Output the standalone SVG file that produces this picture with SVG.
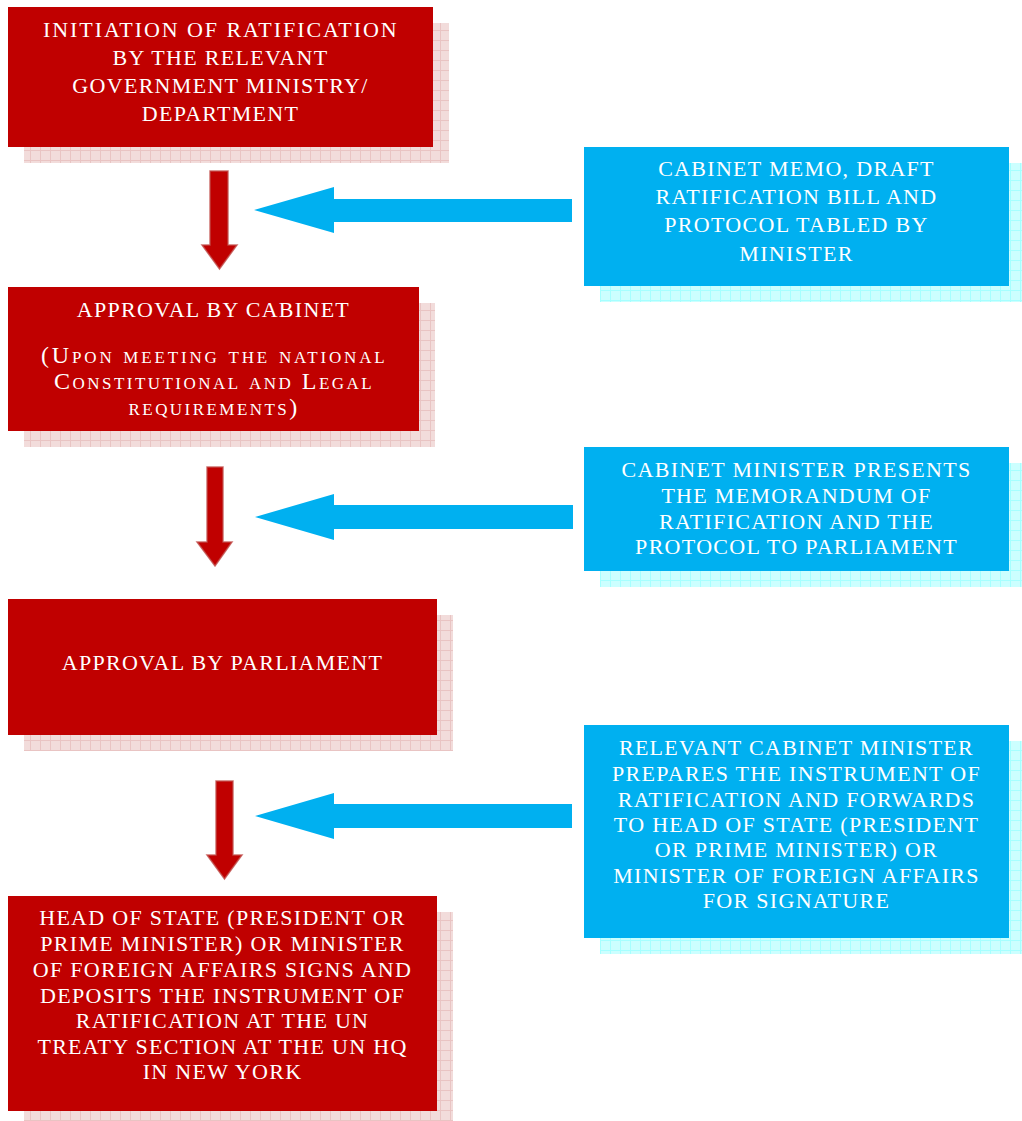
<svg xmlns="http://www.w3.org/2000/svg" width="1022" height="1121" viewBox="0 0 1022 1121">
<defs>
<pattern id="gridRed" width="10" height="10" patternUnits="userSpaceOnUse">
<rect width="10" height="10" fill="#F2DCDB"/>
<path d="M0 0.5H10M0.5 0V10" stroke="#E9C4C3" stroke-width="1"/>
</pattern>
<pattern id="gridBlue" width="10" height="10" patternUnits="userSpaceOnUse">
<rect width="10" height="10" fill="#CCFFFF"/>
<path d="M0 0.5H10M0.5 0V10" stroke="#A6FFFF" stroke-width="1"/>
</pattern>
<style>
.red{fill:#C00000}
.blue{fill:#00B0F0}
.shr{fill:url(#gridRed)}
.shb{fill:url(#gridBlue)}
.t{font-family:"Liberation Serif","Times New Roman",serif;font-size:22px;fill:#FFFFFF;text-anchor:middle;letter-spacing:1.3px}
.sc{font-variant:small-caps;font-size:24px}
.ra{fill:#C00000;stroke:#C0504D;stroke-width:1.5;stroke-opacity:0.8}
.ba{fill:#00B0F0}
</style>
</defs>

<g id="node-initiation">
<rect class="shr" x="24" y="23" width="425" height="140"/>
<rect class="red" x="8" y="7" width="425" height="140"/>
<text class="t" x="220.5" y="37" textLength="355" lengthAdjust="spacing">INITIATION OF RATIFICATION</text>
<text class="t" x="220.5" y="64.5">BY THE RELEVANT</text>
<text class="t" x="220.5" y="92.5">GOVERNMENT MINISTRY/</text>
<text class="t" x="220.5" y="120.5">DEPARTMENT</text>
</g>

<g id="node-cabinet">
<rect class="shr" x="24" y="303" width="411" height="144"/>
<rect class="red" x="8" y="287" width="411" height="144"/>
<text class="t" x="213.5" y="317">APPROVAL BY CABINET</text>
<text class="t sc" x="213.5" y="363" textLength="345" lengthAdjust="spacing">(Upon meeting the national</text>
<text class="t sc" x="213.5" y="389" textLength="319" lengthAdjust="spacing">Constitutional and Legal</text>
<text class="t sc" x="213.5" y="415" textLength="170" lengthAdjust="spacing">requirements)</text>
</g>

<g id="node-parliament">
<rect class="shr" x="24" y="615" width="429" height="136"/>
<rect class="red" x="8" y="599" width="429" height="136"/>
<text class="t" x="222.5" y="670">APPROVAL BY PARLIAMENT</text>
</g>

<g id="node-head-of-state">
<rect class="shr" x="24" y="912" width="429" height="209"/>
<rect class="red" x="8" y="896" width="429" height="215"/>
<text class="t" x="222.5" y="925">HEAD OF STATE (PRESIDENT OR</text>
<text class="t" x="222.5" y="951">PRIME MINISTER) OR MINISTER</text>
<text class="t" x="222.5" y="977">OF FOREIGN AFFAIRS SIGNS AND</text>
<text class="t" x="222.5" y="1003">DEPOSITS THE INSTRUMENT OF</text>
<text class="t" x="222.5" y="1028">RATIFICATION AT THE UN</text>
<text class="t" x="222.5" y="1054">TREATY SECTION AT THE UN HQ</text>
<text class="t" x="222.5" y="1079">IN NEW YORK</text>
</g>

<g id="node-cabinet-memo">
<rect class="shb" x="600" y="163" width="425" height="139"/>
<rect class="blue" x="584" y="147" width="425" height="139"/>
<text class="t" x="796.5" y="176">CABINET MEMO, DRAFT</text>
<text class="t" x="796.5" y="204">RATIFICATION BILL AND</text>
<text class="t" x="796.5" y="232">PROTOCOL TABLED BY</text>
<text class="t" x="796.5" y="261">MINISTER</text>
</g>

<g id="node-minister-presents">
<rect class="shb" x="600" y="463" width="425" height="124"/>
<rect class="blue" x="584" y="447" width="425" height="124"/>
<text class="t" x="796.5" y="477">CABINET MINISTER PRESENTS</text>
<text class="t" x="796.5" y="503">THE MEMORANDUM OF</text>
<text class="t" x="796.5" y="529">RATIFICATION AND THE</text>
<text class="t" x="796.5" y="554">PROTOCOL TO PARLIAMENT</text>
</g>

<g id="node-instrument">
<rect class="shb" x="600" y="741" width="425" height="213"/>
<rect class="blue" x="584" y="725" width="425" height="213"/>
<text class="t" x="796.5" y="755">RELEVANT CABINET MINISTER</text>
<text class="t" x="796.5" y="781">PREPARES THE INSTRUMENT OF</text>
<text class="t" x="796.5" y="807">RATIFICATION AND FORWARDS</text>
<text class="t" x="796.5" y="832">TO HEAD OF STATE (PRESIDENT</text>
<text class="t" x="796.5" y="857">OR PRIME MINISTER) OR</text>
<text class="t" x="796.5" y="883">MINISTER OF FOREIGN AFFAIRS</text>
<text class="t" x="796.5" y="908">FOR SIGNATURE</text>
</g>

<g id="connectors">
<path class="ra" d="M210 171H228V245H237L219.5 269L202 245H210Z"/>
<path class="ra" d="M207 467H223V542H232L215 566L197 542H207Z"/>
<path class="ra" d="M216 781H233V855H242L224.5 879L207 855H216Z"/>
<path class="ba" d="M572 199V222H334V233L254 210L334 187V199Z"/>
<path class="ba" d="M573 505V529H334V540L255 517L334 494V505Z"/>
<path class="ba" d="M572 804V828H334V839L255 816L334 793V804Z"/>
</g>
</svg>
